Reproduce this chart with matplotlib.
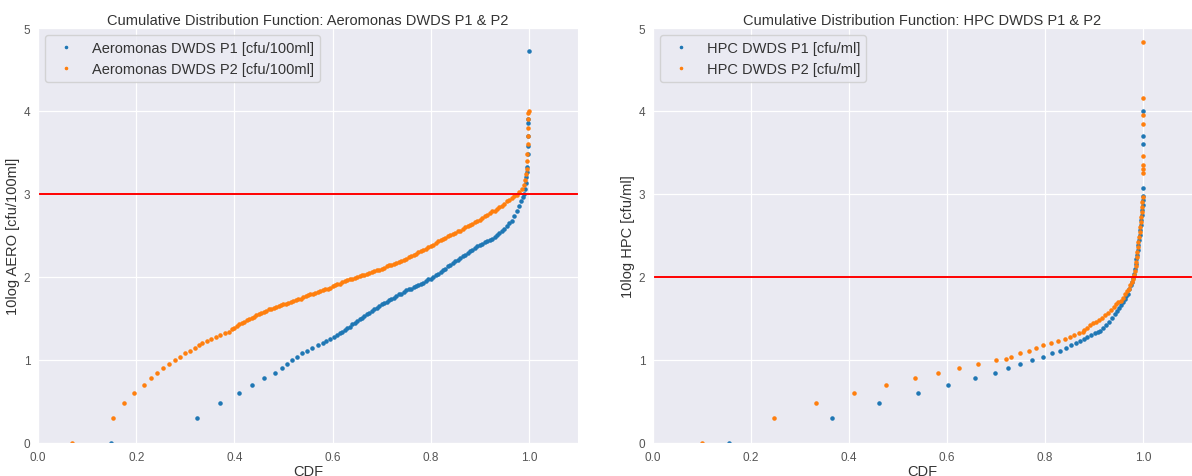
import matplotlib
matplotlib.use("Agg")
import matplotlib.pyplot as plt
import seaborn as sns

# Aeromonas DWDS P1 : CDF position and 10log of count
aero_p1_cdf = [
    0.148, 0.323, 0.371, 0.409, 0.436, 0.461, 0.482, 0.496, 0.507, 0.518,
    0.528, 0.538, 0.548, 0.559, 0.570, 0.580, 0.587, 0.595, 0.603, 0.610,
    0.615, 0.620, 0.625, 0.630, 0.635, 0.640, 0.645, 0.650, 0.655, 0.660,
    0.665, 0.670, 0.675, 0.680, 0.685, 0.690, 0.695, 0.700, 0.705, 0.710,
    0.715, 0.720, 0.725, 0.730, 0.735, 0.740, 0.745, 0.750, 0.755, 0.760,
    0.765, 0.770, 0.775, 0.780, 0.785, 0.790, 0.795, 0.800, 0.805, 0.810,
    0.815, 0.820, 0.825, 0.830, 0.835, 0.840, 0.845, 0.850, 0.855, 0.860,
    0.865, 0.870, 0.875, 0.880, 0.885, 0.890, 0.895, 0.900, 0.905, 0.910,
    0.915, 0.920, 0.925, 0.930, 0.935, 0.940, 0.945, 0.950, 0.955, 0.960,
    0.965, 0.970, 0.975, 0.980, 0.984, 0.987, 0.990, 0.992, 0.994, 0.995,
    0.996, 0.997, 0.998, 0.998, 0.999, 0.999, 0.999, 1.000,
]
aero_p1_log = [
    0.000, 0.301, 0.477, 0.602, 0.699, 0.778, 0.845, 0.903, 0.954, 1.000,
    1.041, 1.079, 1.114, 1.146, 1.176, 1.204, 1.230, 1.255, 1.279, 1.301,
    1.32, 1.34, 1.36, 1.38, 1.40, 1.43, 1.45, 1.47, 1.49, 1.51,
    1.53, 1.55, 1.57, 1.59, 1.61, 1.63, 1.65, 1.67, 1.69, 1.70,
    1.72, 1.74, 1.75, 1.77, 1.79, 1.80, 1.82, 1.84, 1.85, 1.86,
    1.88, 1.89, 1.90, 1.92, 1.93, 1.95, 1.97, 1.98, 2.00, 2.02,
    2.04, 2.06, 2.08, 2.10, 2.13, 2.15, 2.17, 2.19, 2.21, 2.23,
    2.25, 2.27, 2.29, 2.31, 2.33, 2.35, 2.37, 2.39, 2.40, 2.42,
    2.43, 2.45, 2.46, 2.48, 2.50, 2.53, 2.56, 2.58, 2.61, 2.65,
    2.68, 2.74, 2.80, 2.86, 2.92, 2.96, 3.00, 3.06, 3.13, 3.20,
    3.27, 3.33, 3.48, 3.58, 3.70, 3.85, 3.90, 4.72,
]

# Aeromonas DWDS P2
aero_p2_cdf = [
    0.070, 0.152, 0.175, 0.196, 0.215, 0.231, 0.243, 0.255, 0.267, 0.279,
    0.290, 0.300, 0.310, 0.319, 0.327, 0.335, 0.344, 0.353, 0.362, 0.371,
    0.380, 0.389,
    0.395, 0.400, 0.405, 0.410, 0.415, 0.420, 0.425, 0.430, 0.435, 0.440,
    0.445, 0.450, 0.455, 0.460, 0.465, 0.470, 0.475, 0.480, 0.485, 0.490,
    0.495, 0.500, 0.505, 0.510, 0.515, 0.520, 0.525, 0.530, 0.535, 0.540,
    0.545, 0.550, 0.555, 0.560, 0.565, 0.570, 0.575, 0.580, 0.585, 0.590,
    0.595, 0.600, 0.605, 0.610, 0.615, 0.620, 0.625, 0.630, 0.635, 0.640,
    0.645, 0.650, 0.655, 0.660, 0.665, 0.670, 0.675, 0.680, 0.685, 0.690,
    0.695, 0.700, 0.705, 0.710, 0.715, 0.720, 0.725, 0.730, 0.735, 0.740,
    0.745, 0.750, 0.755, 0.760, 0.765, 0.770, 0.775, 0.780, 0.785, 0.790,
    0.795, 0.800, 0.805, 0.810, 0.815, 0.820, 0.825, 0.830, 0.835, 0.840,
    0.845, 0.850, 0.855, 0.860, 0.865, 0.870, 0.875, 0.880, 0.885, 0.890,
    0.895, 0.900, 0.905, 0.910, 0.915, 0.920, 0.925, 0.930, 0.935, 0.940,
    0.945, 0.950, 0.955, 0.960, 0.965, 0.970, 0.975, 0.980, 0.985, 0.990,
    0.993, 0.995, 0.996, 0.997, 0.997, 0.998, 0.998, 0.999, 0.999, 0.999,
    1.000,
]
aero_p2_log = [
    0.000, 0.301, 0.477, 0.602, 0.699, 0.778, 0.845, 0.903, 0.954, 1.000,
    1.041, 1.079, 1.114, 1.146, 1.176, 1.204, 1.230, 1.255, 1.279, 1.301,
    1.322, 1.342,
    1.37, 1.39, 1.41, 1.43, 1.45, 1.46, 1.48, 1.49, 1.51, 1.52,
    1.54, 1.55, 1.57, 1.58, 1.59, 1.61, 1.62, 1.63, 1.64, 1.65,
    1.66, 1.67, 1.68, 1.69, 1.70, 1.71, 1.72, 1.73, 1.74, 1.76,
    1.77, 1.78, 1.79, 1.80, 1.81, 1.82, 1.83, 1.84, 1.85, 1.86,
    1.87, 1.89, 1.90, 1.91, 1.92, 1.94, 1.95, 1.96, 1.97, 1.98,
    1.99, 2.00, 2.01, 2.02, 2.03, 2.04, 2.05, 2.06, 2.07, 2.08,
    2.09, 2.10, 2.11, 2.13, 2.14, 2.15, 2.16, 2.17, 2.18, 2.19,
    2.21, 2.22, 2.24, 2.25, 2.27, 2.28, 2.30, 2.31, 2.33, 2.34,
    2.36, 2.37, 2.39, 2.41, 2.43, 2.45, 2.46, 2.47, 2.49, 2.50,
    2.52, 2.53, 2.55, 2.56, 2.58, 2.60, 2.61, 2.63, 2.64, 2.66,
    2.67, 2.69, 2.71, 2.73, 2.75, 2.77, 2.79, 2.80, 2.82, 2.84,
    2.86, 2.88, 2.91, 2.93, 2.95, 2.97, 2.99, 3.02, 3.06, 3.11,
    3.17, 3.24, 3.30, 3.40, 3.48, 3.60, 3.70, 3.80, 3.90, 3.97,
    4.00,
]

# HPC DWDS P1
hpc_p1_cdf = [
    0.155, 0.365, 0.462, 0.541, 0.603, 0.657, 0.697, 0.725, 0.750, 0.773,
    0.795, 0.814, 0.830, 0.843, 0.854, 0.863, 0.871, 0.879, 0.886, 0.894,
    0.902, 0.908,
    0.912, 0.918, 0.924, 0.930, 0.936, 0.942, 0.947, 0.952, 0.956, 0.960,
    0.963, 0.966, 0.969, 0.972, 0.975, 0.977, 0.979, 0.981, 0.983, 0.985,
    0.986, 0.987, 0.989, 0.990, 0.991, 0.993, 0.994, 0.995, 0.996, 0.997,
    0.998, 0.999, 0.999, 1.000, 1.000, 1.000, 1.000, 1.000,
]
hpc_p1_log = [
    0.000, 0.301, 0.477, 0.602, 0.699, 0.778, 0.845, 0.903, 0.954, 1.000,
    1.041, 1.079, 1.114, 1.146, 1.176, 1.204, 1.230, 1.255, 1.279, 1.301,
    1.322, 1.342,
    1.35, 1.38, 1.42, 1.46, 1.50, 1.55, 1.59, 1.63, 1.66, 1.70,
    1.74, 1.77, 1.80, 1.85, 1.90, 1.94, 1.99, 2.04, 2.10, 2.16,
    2.22, 2.27, 2.33, 2.39, 2.45, 2.51, 2.57, 2.63, 2.69, 2.75,
    2.81, 2.87, 2.93, 2.98, 3.07, 3.60, 3.70, 4.00,
]

# HPC DWDS P2
hpc_p2_cdf = [
    0.100, 0.246, 0.332, 0.411, 0.476, 0.534, 0.581, 0.625, 0.664, 0.700,
    0.720, 0.731, 0.749, 0.767, 0.781, 0.796, 0.812, 0.827, 0.840, 0.851,
    0.860, 0.869, 0.877,
    0.880, 0.886, 0.892, 0.898, 0.904, 0.910, 0.916, 0.922, 0.928, 0.934,
    0.940, 0.945, 0.950, 0.955, 0.960, 0.964, 0.968, 0.971, 0.974, 0.977,
    0.979, 0.981, 0.983, 0.985, 0.986, 0.987, 0.988, 0.989, 0.990, 0.992,
    0.993, 0.994, 0.995, 0.996, 0.997, 0.998, 0.998, 0.999,
    0.999, 0.999, 0.999, 0.999, 0.999, 1.000, 1.000, 1.000,
]
hpc_p2_log = [
    0.000, 0.301, 0.477, 0.602, 0.699, 0.778, 0.845, 0.903, 0.954, 1.000,
    1.010, 1.041, 1.079, 1.114, 1.146, 1.176, 1.204, 1.230, 1.255, 1.279,
    1.301, 1.322, 1.342,
    1.36, 1.39, 1.42, 1.44, 1.46, 1.48, 1.51, 1.54, 1.57, 1.60,
    1.64, 1.67, 1.70, 1.71, 1.75, 1.79, 1.83, 1.86, 1.90, 1.94,
    1.98, 2.02, 2.07, 2.13, 2.18, 2.24, 2.30, 2.36, 2.42, 2.48,
    2.54, 2.60, 2.66, 2.72, 2.78, 2.84, 2.90, 2.96,
    3.25, 3.30, 3.35, 3.46, 3.84, 3.95, 4.16, 4.83,
]

aero_limit = 3
hpc_limit = 2

sns.set_style("darkgrid")
plt.rcParams["font.family"] = ["Liberation Sans", "DejaVu Sans"]
plt.rcParams["text.color"] = "#333333"
plt.rcParams["axes.labelcolor"] = "#333333"

fig = plt.figure(figsize=(11.92, 4.77), dpi=100)
ax1 = fig.add_axes([0.0319, 0.0692, 0.4530, 0.870])
ax2 = fig.add_axes([0.5478, 0.0692, 0.4522, 0.870])


def cdf_panel(ax, x1, y1, x2, y2, lab1, lab2, limit, title, ylabel):
    ax.plot(x1, y1, ".", color="#1f77b4", ms=4.5, label=lab1)
    ax.plot(x2, y2, ".", color="#ff7f0e", ms=4.5, label=lab2)
    ax.axhline(limit, color="red", lw=1.4)
    ax.set_xlim(0, 1.1)
    ax.set_ylim(0, 5)
    ax.set_title(title, fontsize=10.5, pad=3)
    ax.set_xlabel("CDF", fontsize=10.5, labelpad=1)
    ax.set_ylabel(ylabel, fontsize=10.5, labelpad=3)
    ax.tick_params(labelsize=8.5, colors="#555555", pad=2)
    ax.grid(color="white", lw=0.9)
    ax.legend(loc="upper left", fontsize=10.5, markerscale=0.7)


cdf_panel(ax1, aero_p1_cdf, aero_p1_log, aero_p2_cdf, aero_p2_log,
          "Aeromonas DWDS P1 [cfu/100ml]", "Aeromonas DWDS P2 [cfu/100ml]",
          aero_limit, "Cumulative Distribution Function: Aeromonas DWDS P1 & P2",
          "10log AERO [cfu/100ml]")
cdf_panel(ax2, hpc_p1_cdf, hpc_p1_log, hpc_p2_cdf, hpc_p2_log,
          "HPC DWDS P1 [cfu/ml]", "HPC DWDS P2 [cfu/ml]",
          hpc_limit, "Cumulative Distribution Function: HPC DWDS P1 & P2",
          "10log HPC [cfu/ml]")

fig.savefig("out.png", dpi=100)
